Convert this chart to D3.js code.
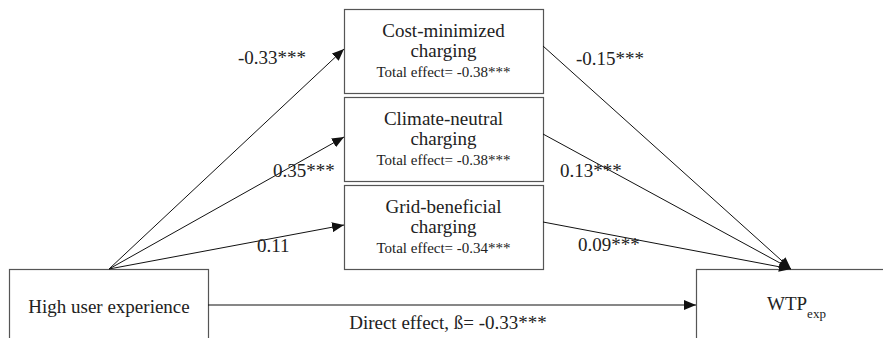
<!DOCTYPE html>
<html><head><meta charset="utf-8">
<script src="https://cdn.jsdelivr.net/npm/d3@7"></script>
<style>
html,body{margin:0;padding:0;background:#fff;}
</style></head>
<body><svg id="c" width="883" height="338"></svg>
<script>
// ---- data ----
const mediators = ["Cost-minimized", "Climate-neutral", "Grid-beneficial"];
const mediatorSub = ["charging", "charging", "charging"];
const aPaths = ["-0.33***", "0.35***", "0.11"];
const bPaths = ["-0.15***", "0.13***", "0.09***"];
const totalEffects = ["-0.38***", "-0.38***", "-0.34***"];
const predictor = "High user experience";
const outcome = "WTP";
const outcomeSub = "exp";
const directEffect = "-0.33***";

// ---- layout ----
const FONT = "'Liberation Serif', Tinos, 'Times New Roman', Times, 'DejaVu Serif', serif";
const svg = d3.select("#c").attr("font-family", FONT);

const defs = svg.append("defs");
defs.append("marker").attr("id","ah")
  .attr("viewBox","0 0 12 10").attr("refX",12).attr("refY",5)
  .attr("markerWidth",12).attr("markerHeight",10)
  .attr("markerUnits","userSpaceOnUse").attr("orient","auto")
  .append("path").attr("d","M0,0 L12,5 L0,10 Z").attr("fill","#111");

const yBand = d3.scaleBand().domain(mediators).range([9, 269]).paddingInner(4/88).paddingOuter(0);
const mx0 = 344, mx1 = 543;

const leftBox = {x:9, y:269, w:199};
const rightBox = {x:696, y:269};
const origin = [109, 269];
const target = [791, 269];

function txt(sel){ return sel.attr("font-family", FONT).attr("fill","#222"); }

svg.append("rect").attr("x",leftBox.x+0.5).attr("y",leftBox.y+0.5).attr("width",leftBox.w).attr("height",100)
  .attr("fill","none").attr("stroke","#555").attr("stroke-width",1.2);
svg.append("rect").attr("x",rightBox.x+0.5).attr("y",rightBox.y+0.5).attr("width",300).attr("height",100)
  .attr("fill","none").attr("stroke","#555").attr("stroke-width",1.2);

const g = svg.selectAll("g.med").data(mediators).join("g").attr("class","med");
g.append("rect").attr("x",mx0+0.5).attr("y",d=>yBand(d)+0.5)
  .attr("width",mx1-mx0).attr("height",yBand.bandwidth())
  .attr("fill","#fff").attr("stroke","#555").attr("stroke-width",1.2);
txt(g.append("text")).attr("x",(mx0+mx1)/2).attr("y",d=>yBand(d)+28).attr("text-anchor","middle")
  .attr("font-size",19).text(d=>d);
txt(g.append("text")).attr("x",(mx0+mx1)/2).attr("y",d=>yBand(d)+48).attr("text-anchor","middle")
  .attr("font-size",19).text((d,i)=>mediatorSub[i]);
txt(g.append("text")).attr("x",(mx0+mx1)/2).attr("y",d=>yBand(d)+68).attr("text-anchor","middle")
  .attr("font-size",15).text((d,i)=>"Total effect= "+totalEffects[i]);

mediators.forEach((m,i)=>{
  svg.append("line").attr("x1",origin[0]).attr("y1",origin[1])
    .attr("x2",mx0).attr("y2",yBand(m)+40)
    .attr("stroke","#111").attr("stroke-width",1).attr("marker-end","url(#ah)");
  svg.append("line").attr("x1",mx1).attr("y1",yBand(m)+37)
    .attr("x2",target[0]).attr("y2",target[1])
    .attr("stroke","#111").attr("stroke-width",1).attr("marker-end","url(#ah)");
});

svg.append("line").attr("x1",leftBox.x+leftBox.w).attr("y1",305).attr("x2",rightBox.x).attr("y2",305)
  .attr("stroke","#111").attr("stroke-width",1.2).attr("marker-end","url(#ah)");

const aPos = [[238,64],[273,177],[257,252]];
const bPos = [[576,65],[560,177],[578,251]];
aPaths.forEach((t,i)=>txt(svg.append("text")).attr("x",aPos[i][0]).attr("y",aPos[i][1]).attr("font-size",19).text(t));
bPaths.forEach((t,i)=>txt(svg.append("text")).attr("x",bPos[i][0]).attr("y",bPos[i][1]).attr("font-size",19).text(t));

txt(svg.append("text")).attr("x",109).attr("y",313).attr("text-anchor","middle").attr("font-size",19).text(predictor);
const wt = txt(svg.append("text")).attr("x",767).attr("y",310).attr("font-size",19);
wt.append("tspan").text(outcome);
wt.append("tspan").attr("font-size",13).attr("dy",8).text(outcomeSub);

txt(svg.append("text")).attr("x",448).attr("y",329).attr("text-anchor","middle").attr("font-size",19)
  .text("Direct effect, ß= "+directEffect);
</script></body></html>
